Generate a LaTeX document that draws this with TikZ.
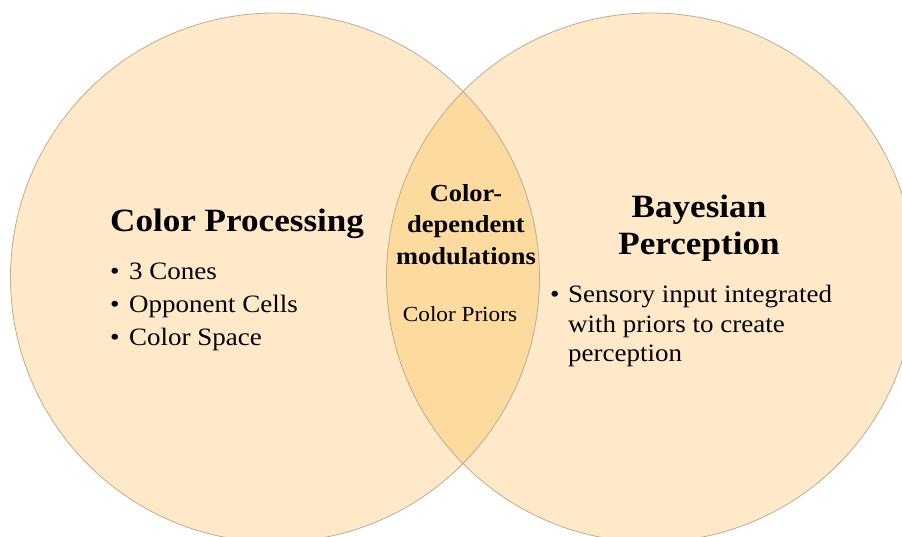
\documentclass[tikz,border=0pt]{standalone}
\usepackage{fontspec}
\setmainfont[FakeStretch=1.08]{Liberation Serif}
\definecolor{peach}{RGB}{255,233,200}
\definecolor{overlap}{RGB}{253,218,158}
\definecolor{rim}{RGB}{190,172,145}
\begin{document}
\begin{tikzpicture}[x=1pt,y=1pt,
  titletext/.style={font=\fontsize{32.5}{38}\selectfont\bfseries, inner sep=0pt, anchor=base},
  midtitle/.style={font=\fontsize{24.5}{30}\selectfont\bfseries, inner sep=0pt, anchor=base},
  bodytext/.style={font=\fontsize{25}{30}\selectfont, inner sep=0pt, anchor=base west},
  midtext/.style={font=\fontsize{21.5}{26}\selectfont, inner sep=0pt, anchor=base},
  dot/.style={font=\fontsize{25}{30}\selectfont, inner sep=0pt, anchor=base west},
  rimline/.style={draw=rim, line width=0.8pt}]
\useasboundingbox (0,0) rectangle (902,537);
\begin{scope}
  \clip (0,0) rectangle (902,537);
  \fill[peach] (275,259.5) circle (264.5);
  \fill[peach] (651,259.5) circle (264.5);
  \begin{scope}
    \clip (275,259.5) circle (264.5);
    \fill[overlap] (651,259.5) circle (264.5);
  \end{scope}
  \draw[rimline] (275,259.5) circle (264.5);
  \draw[rimline] (651,259.5) circle (264.5);
\end{scope}
% left set
\node[titletext, anchor=base west] (lefttitle) at (110,305) {Color Processing};
\node[dot] (lb1) at (110,257) {•};
\node[bodytext] (l1) at (129,257) {3 Cones};
\node[dot] (lb2) at (110,224) {•};
\node[bodytext] (l2) at (129,224) {Opponent Cells};
\node[dot] (lb3) at (110,191) {•};
\node[bodytext] (l3) at (129,191) {Color Space};
% middle
\node[midtitle] (m1) at (466,335) {Color-};
\node[midtitle] (m2) at (466,304) {dependent};
\node[midtitle] (m3) at (466,272) {modulations};
\node[midtext] (m4) at (460,215) {Color Priors};
% right set
\node[titletext] (r1) at (699,319) {Bayesian};
\node[titletext] (r2) at (699,282) {Perception};
\node[dot] (rb1) at (550,234) {•};
\node[bodytext] (rt1) at (568,234) {Sensory input integrated};
\node[bodytext] (rt2) at (568,204) {with priors to create};
\node[bodytext] (rt3) at (568,175) {perception};
\end{tikzpicture}
\end{document}
